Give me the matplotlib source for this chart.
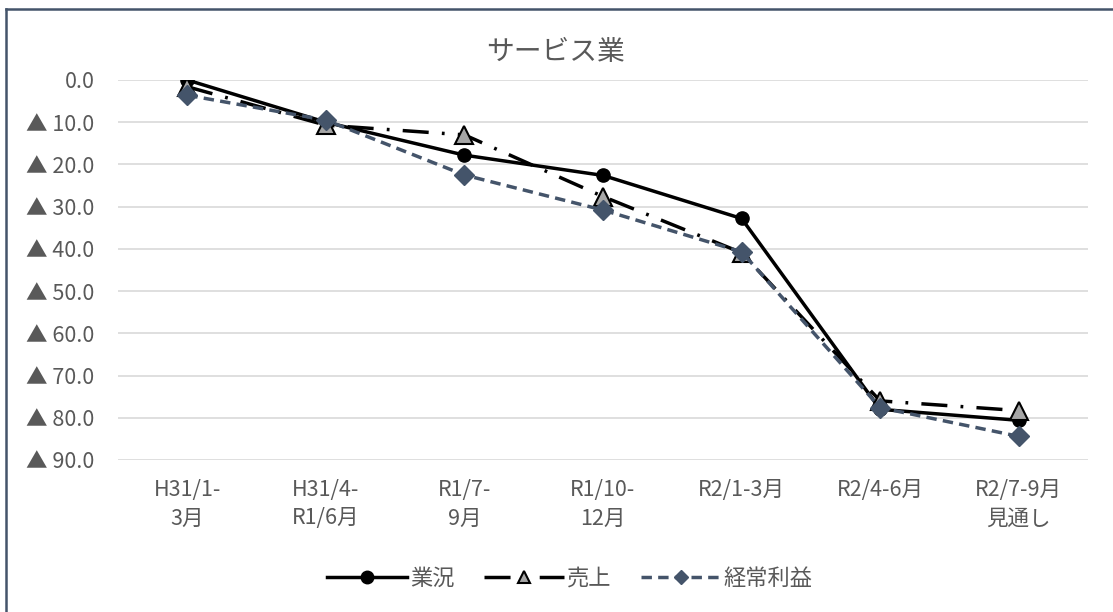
import matplotlib
matplotlib.use("Agg")
import matplotlib.pyplot as plt
from matplotlib.lines import Line2D
import numpy as np

plt.rcParams['font.family'] = ['Noto Sans CJK JP', 'DejaVu Sans']

categories = ["H31/1-\n3月", "H31/4-\nR1/6月", "R1/7-\n9月", "R1/10-\n12月",
              "R2/1-3月", "R2/4-6月", "R2/7-9月\n見通し"]
gyokyo = [0.0, -10.0, -17.8, -22.6, -32.8, -78.0, -80.6]
uriage = [-1.6, -10.7, -13.0, -27.6, -40.9, -76.0, -78.3]
keijo = [-3.6, -9.5, -22.5, -30.8, -40.7, -77.6, -84.4]
yticks = [0, -10, -20, -30, -40, -50, -60, -70, -80, -90]
title = "サービス業"
labels = ["業況", "売上", "経常利益"]

W, H = 1113, 612
fig = plt.figure(figsize=(W / 100, H / 100), dpi=100)
ax = fig.add_axes([118 / W, 1 - 460 / H, 970 / W, 380 / H])

x = np.arange(len(categories))
txt = "#595959"
navy = "#44546A"
LW = 2.5

ax.plot(x, gyokyo, color="black", lw=LW, marker="o", ms=9.5,
        mfc="black", mec="black", zorder=3, label=labels[0])
l2, = ax.plot(x, uriage, color="black", lw=LW, marker="^", ms=13,
              mfc="#A6A6A6", mec="black", mew=1.5, zorder=4, label=labels[1])
l2.set_dashes((7.5, 3.8, 0.8, 3.8))
l3, = ax.plot(x, keijo, color=navy, lw=LW, marker="D", ms=10.5,
              mfc=navy, mec=navy, zorder=5, label=labels[2])
l3.set_dashes((3.0, 1.8))

ax.set_xlim(-0.5, len(categories) - 0.5)
ax.set_ylim(-90, 0)
ax.set_yticks(yticks)
ax.set_yticklabels([("▲ " if v < 0 else "") + f"{abs(v):.1f}" for v in yticks],
                   fontsize=15.5, color=txt)
ax.set_xticks(x)
ax.set_xticklabels(categories, fontsize=15.5, color=txt, linespacing=1.35)
ax.tick_params(axis="both", length=0)
ax.tick_params(axis="x", pad=14)
ax.tick_params(axis="y", pad=17)
ax.grid(axis="y", color="#D9D9D9", lw=1.2)
ax.set_axisbelow(True)
for s in ax.spines.values():
    s.set_visible(False)

fig.text(556 / W, 1 - 52 / H, title, ha="center", va="center", fontsize=20, color=txt)

h1 = Line2D([], [], color="black", lw=LW, marker="o", ms=9, mfc="black", mec="black")
h2 = Line2D([], [], color="black", lw=LW, marker="^", ms=8, mfc="#A6A6A6", mec="black", mew=1.5)
h2.set_dashes((7.5, 3.8, 0.8, 3.8))
h3 = Line2D([], [], color=navy, lw=LW, marker="D", ms=7.5, mfc=navy, mec=navy)
h3.set_dashes((3.0, 1.8))
leg = fig.legend([h1, h2, h3], labels, loc="center", bbox_to_anchor=(570 / W, 1 - 578 / H),
                 ncol=3, frameon=False, fontsize=16, handlelength=3.6, handletextpad=0.15,
                 columnspacing=1.3)
for t in leg.get_texts():
    t.set_color(txt)

fig.add_artist(Line2D([6 / W, 6 / W], [0, 1 - 9 / H], color=navy, lw=1.8))
fig.add_artist(Line2D([6 / W, 1], [1 - 9 / H, 1 - 9 / H], color=navy, lw=1.8))

fig.savefig("out.png", dpi=100)
